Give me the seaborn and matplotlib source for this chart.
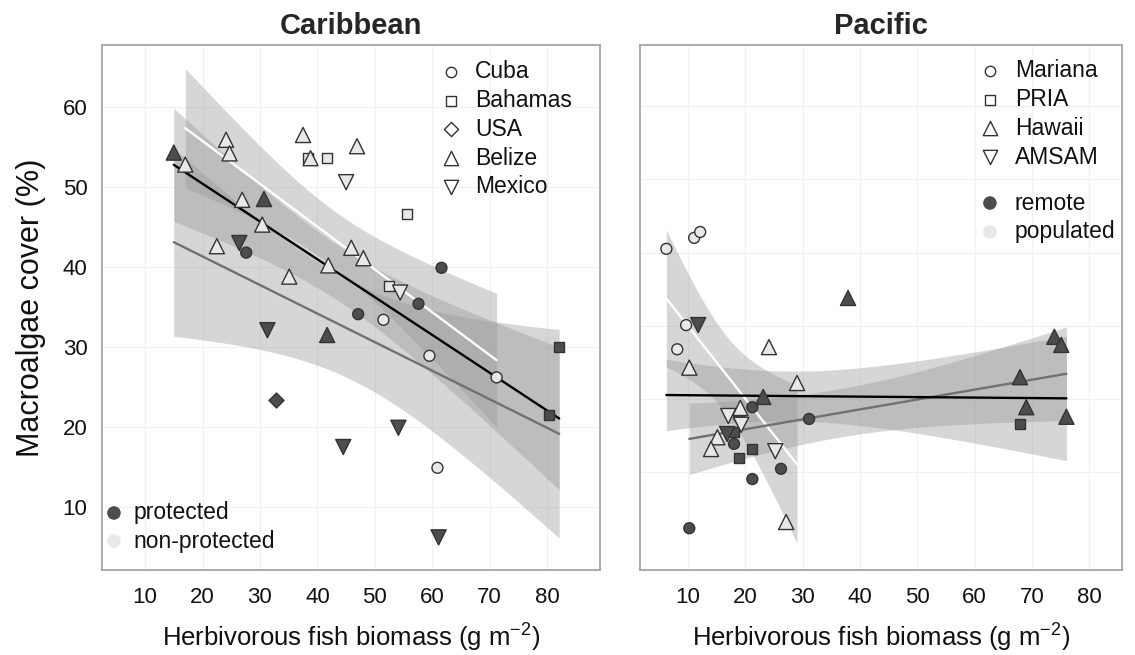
import numpy as np
import pandas as pd
import matplotlib
matplotlib.use("Agg")
import matplotlib.pyplot as plt
import seaborn as sns

# ---------------- Caribbean survey sites ----------------
carib_site = (["Belize"] * 16 + ["Bahamas"] * 6 + ["Mexico"] * 7 + ["Cuba"] * 8 + ["USA"])
carib_status = (["non-protected"] * 13 + ["protected"] * 3
                + ["non-protected"] * 4 + ["protected"] * 2
                + ["non-protected"] * 2 + ["protected"] * 5
                + ["non-protected"] * 4 + ["protected"] * 4
                + ["protected"])
carib_biomass = [17.0, 24.1, 24.7, 37.5, 38.8, 46.9, 26.9, 30.4, 22.5, 35.1, 41.9, 45.9, 48.0,
                 15.0, 30.7, 41.7,
                 38.4, 41.7, 55.6, 52.4,
                 82.1, 80.4,
                 45.0, 54.4,
                 26.4, 31.3, 44.5, 54.1, 61.1,
                 51.5, 59.5, 71.2, 60.9,
                 27.6, 47.1, 57.6, 61.6,
                 32.8]
carib_cover = [52.8, 55.9, 54.2, 56.5, 53.6, 55.1, 48.4, 45.3, 42.6, 38.8, 40.2, 42.4, 41.1,
               54.3, 48.5, 31.5,
               53.6, 53.6, 46.6, 37.6,
               30.0, 21.5,
               50.6, 36.8,
               43.0, 32.1, 17.5, 19.9, 6.2,
               33.4, 28.9, 26.2, 14.9,
               41.8, 34.1, 35.4, 39.9,
               23.4]

# ---------------- Pacific survey sites ----------------
pac_site = (["Mariana"] * 12 + ["PRIA"] * 4 + ["Hawaii"] * 14 + ["AMSAM"] * 5)
pac_status = (["populated"] * 5 + ["remote"] * 7
              + ["remote"] * 4
              + ["populated"] * 7 + ["remote"] * 7
              + ["populated"] * 3 + ["remote"] * 2)
pac_biomass = [6.2, 11.05, 12.1, 9.65, 8.1,
               21.2, 18.9, 31.1, 18.0, 26.2, 21.2, 10.2,
               18.0, 21.2, 18.9, 67.9,
               10.2, 24.1, 29.0, 19.1, 15.1, 14.0, 27.1,
               37.9, 23.1, 73.9, 75.1, 67.9, 69.0, 76.0,
               17.0, 19.25, 25.2,
               11.75, 16.8]
pac_cover = [40.5, 42.0, 42.8, 30.1, 26.8,
             18.9, 17.6, 17.3, 13.9, 10.5, 9.1, 2.4,
             15.5, 13.2, 12.0, 16.6,
             24.3, 27.1, 22.2, 18.8, 14.8, 13.2, 3.25,
             33.8, 20.3, 28.5, 27.4, 23.0, 18.9, 17.6,
             17.7, 16.5, 12.9,
             30.1, 15.25]

carib_sites = ["Cuba", "Bahamas", "USA", "Belize", "Mexico"]
pac_sites = ["Mariana", "PRIA", "Hawaii", "AMSAM"]
xticks = [10, 20, 30, 40, 50, 60, 70, 80]
yticks = [10, 20, 30, 40, 50, 60]

carib = pd.DataFrame({"site": carib_site, "status": carib_status,
                      "biomass": carib_biomass, "cover": carib_cover})
pac = pd.DataFrame({"site": pac_site, "status": pac_status,
                    "biomass": pac_biomass, "cover": pac_cover})

# ---------------- style ----------------
sns.set_style("white")
plt.rcParams["font.family"] = ["Liberation Sans", "DejaVu Sans"]
plt.rcParams["mathtext.fontset"] = "custom"
plt.rcParams["mathtext.rm"] = "Liberation Sans"
plt.rcParams["mathtext.it"] = "Liberation Sans:italic"
plt.rcParams["mathtext.bf"] = "Liberation Sans:bold"

DARK = "#4d4d4d"
LIGHT = "#e8e8e8"
EDGE = "#333333"
fills = {"protected": DARK, "non-protected": LIGHT, "remote": DARK, "populated": LIGHT}
shape_of = {"Cuba": "o", "Bahamas": "s", "USA": "D", "Belize": "^", "Mexico": "v",
            "Mariana": "o", "PRIA": "s", "Hawaii": "^", "AMSAM": "v"}
size_of = {"o": 62, "s": 52, "D": 58, "^": 118, "v": 118}


def t975(df):
    """Upper 97.5% quantile of Student's t (Cornish-Fisher expansion)."""
    z = 1.959964
    return (z + (z ** 3 + z) / (4 * df)
            + (5 * z ** 5 + 16 * z ** 3 + 3 * z) / (96 * df ** 2)
            + (3 * z ** 7 + 19 * z ** 5 + 17 * z ** 3 - 15 * z) / (384 * df ** 3))


def lm_band(x, y, n_grid=120):
    """OLS fit with 95% confidence band over the range of x."""
    x = np.asarray(x, float)
    y = np.asarray(y, float)
    n = len(x)
    b1, b0 = np.polyfit(x, y, 1)
    grid = np.linspace(x.min(), x.max(), n_grid)
    fit = b0 + b1 * grid
    resid = y - (b0 + b1 * x)
    s = np.sqrt(np.sum(resid ** 2) / (n - 2))
    se = s * np.sqrt(1 / n + (grid - x.mean()) ** 2 / np.sum((x - x.mean()) ** 2))
    half = t975(n - 2) * se
    return grid, fit, fit - half, fit + half


def smooth(ax, d, color, lw=1.7):
    g, f, lo, hi = lm_band(d["biomass"], d["cover"])
    ax.fill_between(g, lo, hi, color="#999999", alpha=0.4, lw=0, zorder=2)
    return g, f, color, lw


def draw_panel(ax, df, sites, groups, xlim, ylim):
    lines = []
    # overall fit plus one per group
    lines.append(smooth(ax, df, "black"))
    lines.append(smooth(ax, df[df.status == groups[0]], "#717171"))
    lines.append(smooth(ax, df[df.status == groups[1]], "white"))
    for g, f, c, lw in lines[::-1]:
        sns.lineplot(x=g, y=f, color=c, lw=lw, ax=ax, zorder=3, legend=False)
    for site in sites:
        sub = df[df.site == site]
        m = shape_of[site]
        sns.scatterplot(data=sub, x="biomass", y="cover", hue="status", palette=fills,
                        marker=m, s=size_of[m], edgecolor=EDGE, linewidth=1.0,
                        legend=False, ax=ax, zorder=5)
    ax.set_xlim(*xlim)
    ax.set_ylim(*ylim)
    ax.set_xticks(xticks)
    ax.set_yticks(yticks)
    ax.grid(True, color="#f1f1f1", lw=0.9)
    ax.set_axisbelow(True)
    for sp in ax.spines.values():
        sp.set_visible(True)
        sp.set_color("#a6a6a6")
        sp.set_linewidth(1.3)
    ax.tick_params(axis="both", direction="out", length=8, width=1.7,
                   color="#222222", labelsize=16, labelcolor="#111111")
    ax.tick_params(axis="x", pad=4.5)
    ax.tick_params(axis="y", pad=2.5)
    ax.set_xlabel("Herbivorous fish biomass (g m$^{-2}$)", fontsize=18.5, color="#111111")
    ax.xaxis.set_label_coords(0.5, -0.098)


def shape_legend(ax, names, mx, tx, y0, dy):
    for i, name in enumerate(names):
        y = y0 - i * dy
        m = shape_of[name]
        ax.scatter([mx], [y], marker=m, s=size_of[m] * 0.9, facecolor="white",
                   edgecolor=EDGE, linewidth=1.0, transform=ax.transAxes,
                   clip_on=False, zorder=10)
        ax.text(tx, y, name, transform=ax.transAxes, fontsize=16.5, va="center",
                ha="left", color="#111111", zorder=10)


def fill_legend(ax, names, mx, tx, ys):
    for name, y in zip(names, ys):
        ax.scatter([mx], [y], marker="o", s=95, facecolor=fills[name], edgecolor="none",
                   transform=ax.transAxes, clip_on=False, zorder=10)
        ax.text(tx, y, name, transform=ax.transAxes, fontsize=16.5, va="center",
                ha="left", color="#111111", zorder=10)


fig = plt.figure(figsize=(11.35, 6.55), dpi=100)
ax1 = fig.add_axes([102 / 1135, 85 / 655, 498 / 1135, 525 / 655])
ax2 = fig.add_axes([640 / 1135, 85 / 655, 482 / 1135, 525 / 655])

draw_panel(ax1, carib, carib_sites, ["protected", "non-protected"],
           (2.5, 89.2), (2.125, 67.75))
draw_panel(ax2, pac, pac_sites, ["remote", "populated"],
           (1.6, 85.7), (-3.3, 68.3))

ax1.set_ylabel("Macroalgae cover (%)", fontsize=22, color="#111111")
ax1.yaxis.set_label_coords(-0.112, 0.5)
ax2.set_ylabel("")
ax2.tick_params(axis="y", labelleft=False)

ax1.set_title("Caribbean", fontsize=21, fontweight="bold", pad=8)
ax2.set_title("Pacific", fontsize=21, fontweight="bold", pad=8)

shape_legend(ax1, carib_sites, 0.701, 0.749, 0.9486, 0.0547)
fill_legend(ax1, ["protected", "non-protected"], 0.024, 0.064, [0.1086, 0.0552])
shape_legend(ax2, pac_sites, 0.726, 0.778, 0.9505, 0.0547)
fill_legend(ax2, ["remote", "populated"], 0.726, 0.778, [0.699, 0.644])

fig.savefig("out.png", dpi=100)
